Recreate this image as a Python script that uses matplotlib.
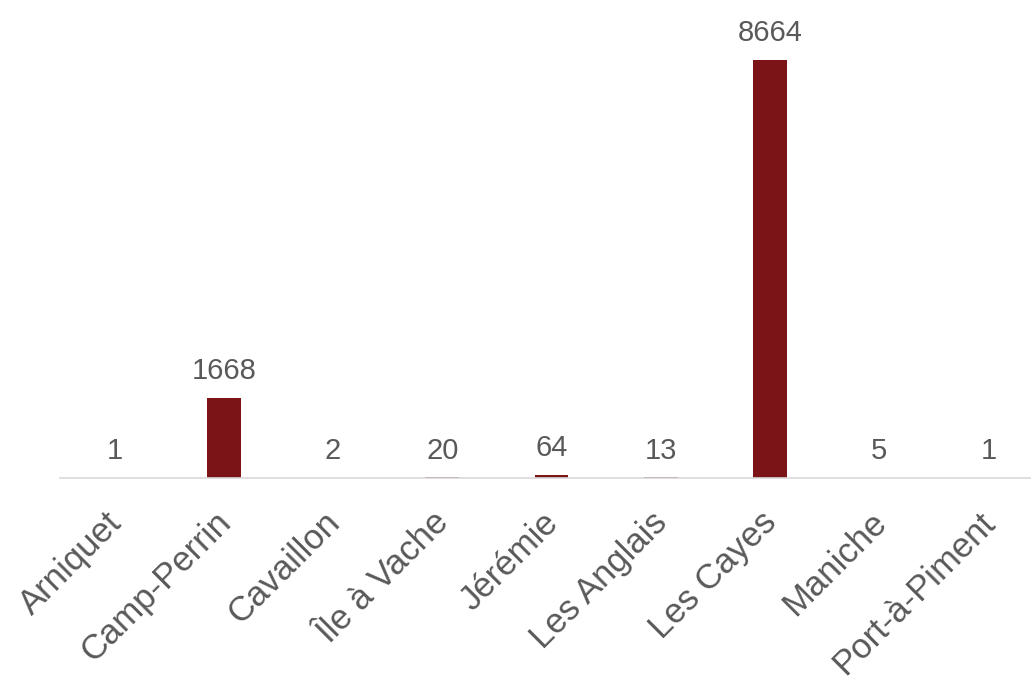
import matplotlib.pyplot as plt
from matplotlib.transforms import ScaledTranslation

plt.rcParams['font.family'] = ['Liberation Sans', 'DejaVu Sans']

communes = ['Arniquet', 'Camp-Perrin', 'Cavaillon', 'Île à Vache', 'Jérémie',
            'Les Anglais', 'Les Cayes', 'Maniche', 'Port-à-Piment']
valeurs = [1, 1668, 2, 20, 64, 13, 8664, 5, 1]

couleur = '#7B1416'
gris = '#595959'

fig = plt.figure(figsize=(10.31, 6.79), dpi=100)
ax = fig.add_axes([60/1031, 1-478/679, 983/1031, 478/679])

x = range(len(communes))
bars = ax.bar(x, valeurs, width=0.31, color=couleur)
for xi, v in zip(x, valeurs):
    ax.annotate(str(v), (xi, v), xytext=(0, 9), textcoords='offset points',
                ha='center', va='bottom', fontsize=21, color=gris)

ax.set_xlim(-0.5, len(communes)-0.5)
ax.set_ylim(0, 9907)
ax.set_xticks(list(x))
ax.set_xticklabels(communes, rotation=45, ha='right', rotation_mode='anchor',
                   fontsize=25, color=gris)
ax.tick_params(axis='x', length=0, pad=20)
# decaler un peu les etiquettes vers la gauche
decal = ScaledTranslation(-10/100, 0, fig.dpi_scale_trans)
for lbl in ax.get_xticklabels():
    lbl.set_transform(lbl.get_transform() + decal)
ax.set_yticks([])
for s in ['top', 'left', 'right']:
    ax.spines[s].set_visible(False)
ax.spines['bottom'].set_color('#d9d9d9')
ax.spines['bottom'].set_linewidth(1.2)

fig.savefig('out.png', dpi=100)
